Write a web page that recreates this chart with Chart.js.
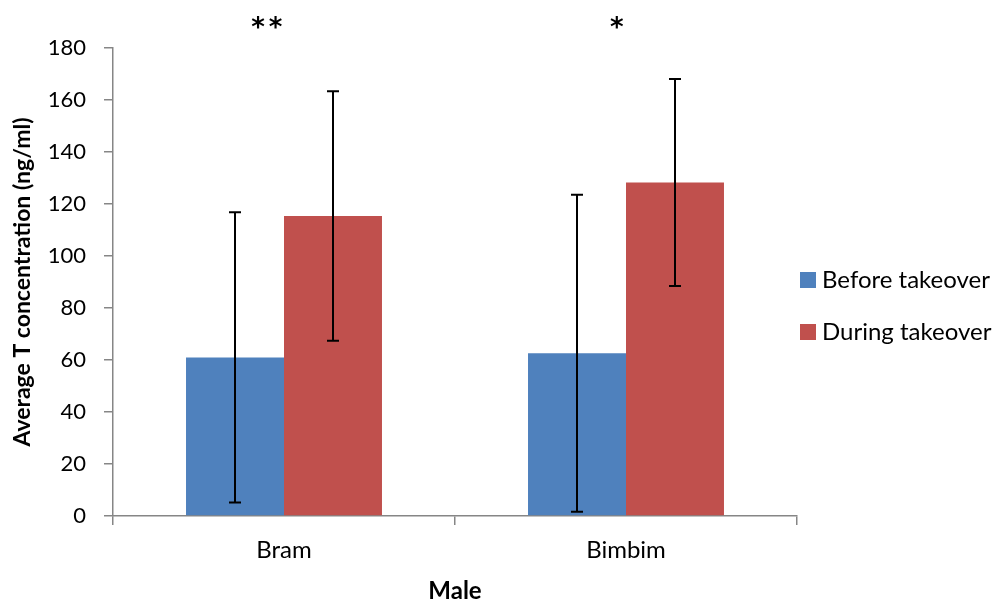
<!DOCTYPE html>
<html>
<head>
<meta charset="utf-8">
<script src="https://cdn.jsdelivr.net/npm/chart.js@4.4.1/dist/chart.umd.min.js"></script>
<style>
  html, body { margin: 0; padding: 0; background: #ffffff; }
  #wrap { width: 998px; height: 603px; position: relative; }
</style>
</head>
<body>
<div id="wrap"><canvas id="chart" width="998" height="603"></canvas></div>
<script>
// Males and mean testosterone levels before / during the takeover
const categories = ['Bram', 'Bimbim'];
const beforeValues = [61.0, 62.6];
const duringValues = [115.4, 128.3];
const beforeErrors = [55.8, 61.0];
const duringErrors = [48.0, 39.8];
const significance = ['**', '*'];
const seriesNames = ['Before takeover', 'During takeover'];
const yTicks = [0, 20, 40, 60, 80, 100, 120, 140, 160, 180];

const FONT = 'Lato, "Open Sans", sans-serif';
const AXIS_GREY = '#868686';

// Symmetric error bars drawn on top of each bar
const errorBarPlugin = {
  id: 'errorBars',
  afterDatasetsDraw(chart) {
    const ctx = chart.ctx;
    const y = chart.scales.y;
    const errs = [beforeErrors, duringErrors];
    ctx.save();
    ctx.strokeStyle = '#000000';
    ctx.lineWidth = 2;
    chart.data.datasets.forEach((ds, di) => {
      const meta = chart.getDatasetMeta(di);
      meta.data.forEach((bar, i) => {
        const v = ds.data[i];
        const e = errs[di][i];
        const yTop = y.getPixelForValue(v + e);
        const yBot = y.getPixelForValue(v - e);
        const x = Math.round(bar.x);
        ctx.beginPath();
        ctx.moveTo(x, yTop);
        ctx.lineTo(x, yBot);
        ctx.moveTo(x - 6, yTop);
        ctx.lineTo(x + 6, yTop);
        ctx.moveTo(x - 6, yBot);
        ctx.lineTo(x + 6, yBot);
        ctx.stroke();
      });
    });
    ctx.restore();
  }
};

// Significance stars above each male's pair of bars
const starsPlugin = {
  id: 'stars',
  afterDraw(chart) {
    const ctx = chart.ctx;
    const xs = chart.scales.x;
    const shifts = [-17, -9];
    ctx.save();
    ctx.fillStyle = '#000000';
    ctx.font = 'bold 26px "DejaVu Sans", sans-serif';
    ctx.textAlign = 'left';
    ctx.textBaseline = 'alphabetic';
    ctx.letterSpacing = '4px';
    significance.forEach((s, i) => {
      const m = ctx.measureText(s);
      const inkMid = (m.actualBoundingBoxAscent - m.actualBoundingBoxDescent) / 2;
      const inkW = m.actualBoundingBoxLeft + m.actualBoundingBoxRight;
      const cx = xs.getPixelForValue(i) + shifts[i];
      const cy = chart.chartArea.top - 25.5;
      ctx.fillText(s, cx - inkW / 2 + m.actualBoundingBoxLeft, cy + inkMid);
    });
    ctx.restore();
  }
};

// Legend at the right of the plot
const sideLegendPlugin = {
  id: 'sideLegend',
  afterDraw(chart) {
    const ctx = chart.ctx;
    const area = chart.chartArea;
    ctx.save();
    ctx.font = '24px ' + FONT;
    ctx.textAlign = 'left';
    ctx.textBaseline = 'middle';
    chart.data.datasets.forEach((ds, i) => {
      const cy = area.top + 232 + i * 52;
      ctx.fillStyle = ds.backgroundColor;
      ctx.fillRect(area.right + 3, cy - 8, 16, 16);
      ctx.fillStyle = '#000000';
      ctx.fillText(ds.label, area.right + 25, cy);
    });
    ctx.restore();
  }
};

new Chart(document.getElementById('chart'), {
  type: 'bar',
  data: {
    labels: categories,
    datasets: [
      { label: seriesNames[0], data: beforeValues, backgroundColor: '#4F81BD',
        categoryPercentage: 0.573, barPercentage: 1.0 },
      { label: seriesNames[1], data: duringValues, backgroundColor: '#C0504D',
        categoryPercentage: 0.573, barPercentage: 1.0 }
    ]
  },
  options: {
    responsive: false,
    animation: false,
    devicePixelRatio: 1,
    layout: { padding: { top: 48, right: 201, bottom: 0, left: 0 } },
    plugins: {
      legend: { display: false },
      tooltip: { enabled: false }
    },
    scales: {
      x: {
        offset: true,
        grid: { offset: true, drawOnChartArea: false, drawTicks: true, tickLength: 9,
                color: AXIS_GREY, lineWidth: 1.5 },
        border: { color: AXIS_GREY, width: 1.5 },
        ticks: { color: '#000000', font: { family: FONT, size: 24 }, padding: 11 },
        title: { display: true, text: 'Male', color: '#000000',
                 font: { family: FONT, size: 24, weight: 'bold' },
                 padding: { top: 0, bottom: -3 } },
        afterFit(scale) { scale.height = 87; }
      },
      y: {
        min: 0,
        max: 180,
        afterBuildTicks(scale) { scale.ticks = yTicks.map(v => ({ value: v })); },
        grid: { drawOnChartArea: false, drawTicks: true, tickLength: 9,
                color: AXIS_GREY, lineWidth: 1.5 },
        border: { color: AXIS_GREY, width: 1.5 },
        ticks: { color: '#000000', font: { family: FONT, size: 22 }, padding: 18 },
        title: { display: true, text: 'Average T concentration (ng/ml)', color: '#000000',
                 font: { family: FONT, size: 23, weight: 'bold' },
                 padding: { top: 9, bottom: 0 } },
        afterFit(scale) { scale.width = 113; }
      }
    }
  },
  plugins: [errorBarPlugin, starsPlugin, sideLegendPlugin]
});
</script>
</body>
</html>
